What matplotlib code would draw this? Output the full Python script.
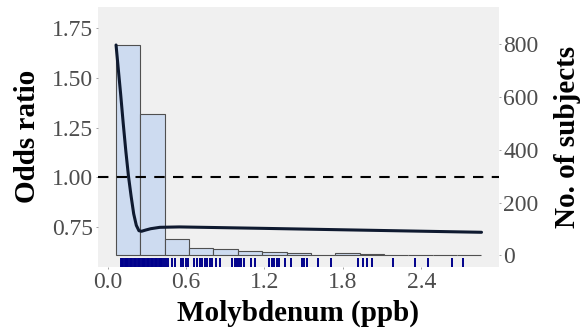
import numpy as np
import matplotlib
matplotlib.use("Agg")
from matplotlib import pyplot as plt
import matplotlib.transforms as mtransforms

plt.rcParams['font.family'] = ['Liberation Serif', 'DejaVu Serif']

# histogram of subjects (15 equal bins)
bin_start = 0.065
bin_width = 0.1863
subject_counts = [797, 533, 63, 28, 25, 17, 12, 10, 3, 8, 5, 1, 3, 2, 2]

# spline curve of the odds ratio
mo_x = [0.065, 0.08, 0.10, 0.12, 0.14, 0.16, 0.18, 0.20, 0.22, 0.24, 0.26, 0.29,
        0.33, 0.40, 0.55, 1.17, 1.93, 2.86]
odds_ratio = [1.666, 1.56, 1.42, 1.27, 1.13, 1.005, 0.905, 0.815, 0.757, 0.730,
              0.727, 0.733, 0.740, 0.747, 0.749, 0.742, 0.733, 0.722]

# observed concentrations (rug)
rug_x = [0.10, 0.11, 0.12, 0.13, 0.14, 0.15, 0.16, 0.17, 0.18, 0.19, 0.20, 0.21,
         0.22, 0.23, 0.24, 0.25, 0.26, 0.27, 0.28, 0.29, 0.30, 0.31, 0.32, 0.33,
         0.34, 0.35, 0.36, 0.37, 0.38, 0.39, 0.40, 0.41, 0.42, 0.43,
         0.444, 0.462, 0.496, 0.516, 0.559, 0.580, 0.598, 0.616, 0.662, 0.687,
         0.707, 0.726, 0.743, 0.764, 0.784, 0.802, 0.828, 0.861, 0.955, 0.973,
         0.989, 1.006, 1.024, 1.045, 1.096, 1.126, 1.236, 1.254, 1.274, 1.295,
         1.313, 1.356, 1.402, 1.484, 1.505, 1.525, 1.612, 1.709, 1.913, 1.950,
         1.987, 2.023, 2.181, 2.355, 2.449, 2.634, 2.720]

x_ticks = [0.0, 0.6, 1.2, 1.8, 2.4]
or_ticks = [0.75, 1.00, 1.25, 1.50, 1.75]
count_ticks = [0, 200, 400, 600, 800]

fig = plt.figure(figsize=(5.87, 3.34), dpi=100)
ax = fig.add_axes([98/587, 1-267/334, 400.5/587, 260.3/334])
ax.set_facecolor('#f0f0f0')
ax2 = ax.twinx()

lefts = [bin_start + i*bin_width for i in range(len(subject_counts))]
ax.bar(lefts, subject_counts, width=bin_width, align='edge',
       facecolor='#cddbf0', edgecolor='#505050', linewidth=0.8)

trans = mtransforms.blended_transform_factory(ax.transData, ax.transAxes)
ax.vlines(rug_x, 0, 0.033, transform=trans, color='#00008b', linewidth=1.4)

ax2.axhline(1.0, color='black', linestyle=(0, (5, 4)), linewidth=1.5)
ax2.plot(mo_x, odds_ratio, color='#0f1a30', linewidth=2.2, solid_capstyle='round')

ax.set_xlim(-0.073, 2.99)
ax.set_ylim(-43.5, 940)
ax2.set_ylim(0.547, 1.859)

for a in (ax, ax2):
    for s in a.spines.values():
        s.set_visible(False)

ax.yaxis.tick_right()
ax.yaxis.set_label_position('right')
ax2.yaxis.tick_left()
ax2.yaxis.set_label_position('left')

ax.set_xticks(x_ticks)
ax.set_xticklabels(['%.1f' % v for v in x_ticks])
ax.set_yticks(count_ticks)
ax.set_yticklabels([str(v) for v in count_ticks])
ax2.set_yticks(or_ticks)
ax2.set_yticklabels(['%.2f' % v for v in or_ticks])

for a in (ax, ax2):
    a.tick_params(axis='both', labelsize=17, labelcolor='#4d4d4d', color='#7f7f7f',
                  length=1.5, width=0.5, pad=2)

ax.set_xlabel('Molybdenum (ppb)', fontsize=21, fontweight='bold')
ax.xaxis.label.set_va('center')
ax.xaxis.set_label_coords(0.5, -0.177)
ax.set_ylabel('No. of subjects', fontsize=21, fontweight='bold')
ax.yaxis.label.set_va('center')
ax.yaxis.set_label_coords(1.1735, 0.5)
ax2.set_ylabel('Odds ratio', fontsize=21, fontweight='bold')
ax2.yaxis.label.set_va('center')
ax2.yaxis.set_label_coords(-0.177, 0.5)

fig.savefig('out.png', dpi=100)
